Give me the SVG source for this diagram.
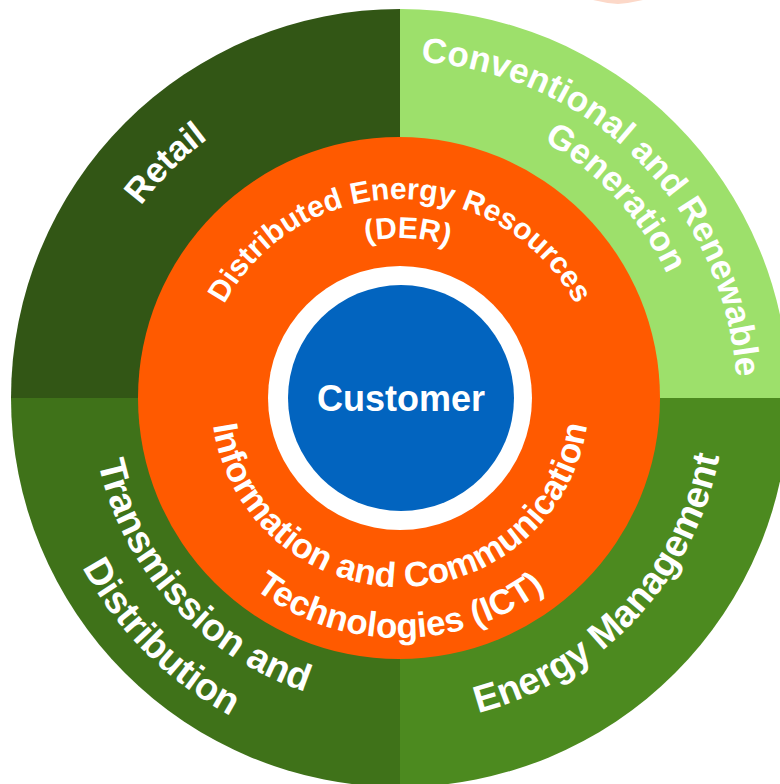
<svg xmlns="http://www.w3.org/2000/svg" width="780" height="784" viewBox="0 0 780 784">
<style>
.t{font-family:"Liberation Sans",Arial,sans-serif;font-weight:bold;fill:#fff}
.o{font-size:35px}
.b{font-size:38px}
.i{font-size:30px}
.ic{font-size:35px}
</style>
<defs>
<path id="pConv" d="M160.3,158.3 A339,339 0 0 1 639.7,637.7"/>
<path id="pGen" d="M190,188 A297,297 0 0 1 610,608"/>
<path id="pRet" d="M170.9,627.1 A324,324 0 0 1 629.1,168.9"/>
<path id="pEM" d="M166.7,631.3 A330,330 0 0 0 633.3,164.7"/>
<path id="pTD1" d="M179.4,177.4 A312,312 0 0 0 620.6,618.6"/>
<path id="pTD2" d="M145.4,143.4 A360,360 0 0 0 654.6,652.6"/>
<path id="pDER" d="M201,398 A199,199 0 0 1 599,398"/>
<path id="pDER2" d="M240,398 A160,160 0 0 1 560,398"/>
<path id="pICT1" d="M211,398 A189,189 0 0 0 589,398"/>
<path id="pICT2" d="M160,398 A240,240 0 0 0 640,398"/>
</defs>
<rect width="780" height="784" fill="#fff"/>
<path d="M593,0 L643,0 Q630,3 618,4 Q605,3 593,0 Z" fill="#fcd8c8"/>
<g id="retail">
<path d="M400,398 L11,398 A389,389 0 0 1 400,9 Z" fill="#325615"/>
<text class="t o"><textPath href="#pRet" startOffset="50%" text-anchor="middle">Retail</textPath></text>
</g>
<g id="generation">
<path d="M400,398 L400,9 A389,389 0 0 1 789,398 Z" fill="#9de06b"/>
<text class="t o"><textPath href="#pConv" startOffset="50%" text-anchor="middle">Conventional and Renewable</textPath></text>
<text class="t o"><textPath href="#pGen" startOffset="51.2%" text-anchor="middle">Generation</textPath></text>
</g>
<g id="energy-management">
<path d="M400,398 L789,398 A389,389 0 0 1 400,787 Z" fill="#4c8a1f"/>
<text class="t b"><textPath href="#pEM" startOffset="51%" text-anchor="middle">Energy Management</textPath></text>
</g>
<g id="transmission">
<path d="M400,398 L400,787 A389,389 0 0 1 11,398 Z" fill="#3f7219"/>
<text class="t b"><textPath href="#pTD1" startOffset="48.4%" text-anchor="middle">Transmission and</textPath></text>
<text class="t b"><textPath href="#pTD2" startOffset="50%" text-anchor="middle">Distribution</textPath></text>
</g>
<g id="der-ict">
<circle cx="399" cy="398" r="261" fill="#ff5a00"/>
<text class="t i"><textPath href="#pDER" startOffset="50%" text-anchor="middle">Distributed Energy Resources</textPath></text>
<text class="t i"><textPath href="#pDER2" startOffset="51.5%" text-anchor="middle">(DER)</textPath></text>
<text class="t ic"><textPath href="#pICT1" startOffset="50%" text-anchor="middle">Information and Communication</textPath></text>
<text class="t ic"><textPath href="#pICT2" startOffset="50%" text-anchor="middle">Technologies (ICT)</textPath></text>
</g>
<g id="customer">
<circle cx="400" cy="398" r="132" fill="#fff"/>
<circle cx="401" cy="398" r="113" fill="#0264bf"/>
<text class="t" x="401" y="411" font-size="36" text-anchor="middle">Customer</text>
</g>
</svg>
